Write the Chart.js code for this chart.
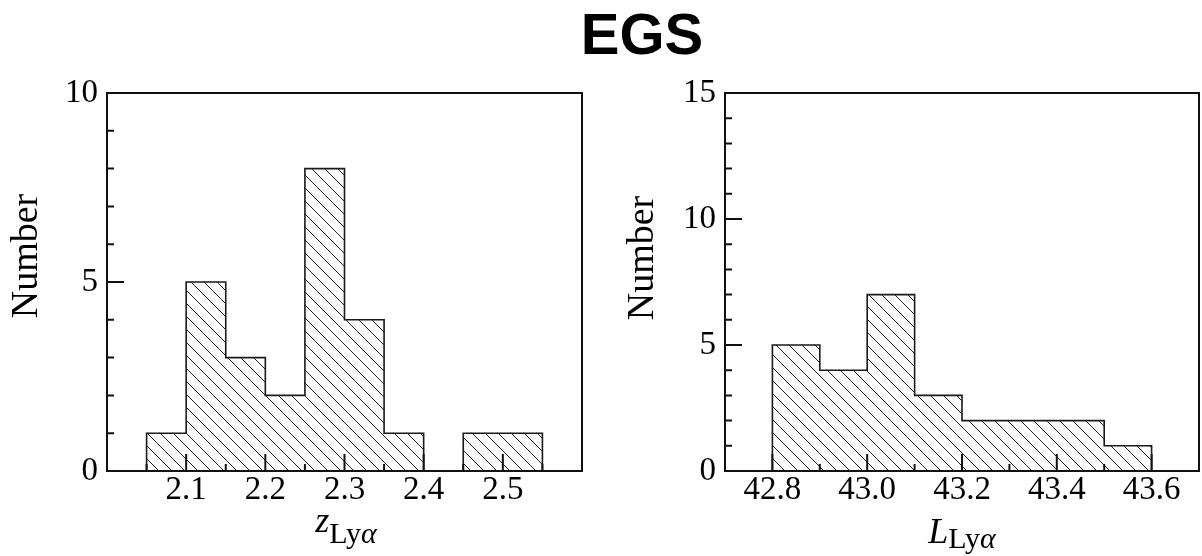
<!DOCTYPE html>
<html>
<head>
<meta charset="utf-8">
<title>EGS</title>
<script src="https://cdn.jsdelivr.net/npm/chart.js@4.4.1/dist/chart.umd.min.js"></script>
<style>
  body { margin: 0; background: #fff; width: 1202px; height: 556px; overflow: hidden; position: relative; }
  #titulo {
    position: absolute; left: 542px; top: 5px; width: 200px; margin: 0;
    text-align: center; font: bold 58px/58px "Liberation Sans", Arial, sans-serif; color: #000;
  }
  #graficoZ { position: absolute; left: 0; top: 0; }
  #graficoL { position: absolute; left: 600px; top: 0; }
</style>
</head>
<body>
<h1 id="titulo">EGS</h1>
<canvas id="graficoZ" width="600" height="556"></canvas>
<canvas id="graficoL" width="602" height="556"></canvas>
<script>
// histograma de z (izquierda)
const bordesZ = [2.05, 2.10, 2.15, 2.20, 2.25, 2.30, 2.35, 2.40, 2.45, 2.50, 2.55];
const cuentasZ = [1, 5, 3, 2, 8, 4, 1, 0, 1, 1];
const etiquetasZ = ['2.1', '2.2', '2.3', '2.4', '2.5'];
const etiquetasNumZ = ['0', '5', '10'];

// histograma de L (derecha)
const bordesL = [42.8, 42.9, 43.0, 43.1, 43.2, 43.3, 43.4, 43.5, 43.6];
const cuentasL = [5, 4, 7, 3, 2, 2, 2, 1];
const etiquetasL = ['42.8', '43.0', '43.2', '43.4', '43.6'];
const etiquetasNumL = ['0', '5', '10', '15'];

const SERIF = '"Liberation Serif", "Times New Roman", serif';

function rayado(paso, color) {
  const c = document.createElement('canvas');
  c.width = paso;
  c.height = paso;
  const g = c.getContext('2d');
  g.strokeStyle = color;
  g.lineWidth = 1;
  g.beginPath();
  g.moveTo(-1, -1); g.lineTo(paso + 1, paso + 1);
  g.moveTo(-1, paso - 1); g.lineTo(1, paso + 1);
  g.moveTo(paso - 1, -1); g.lineTo(paso + 1, 1);
  g.stroke();
  return g.createPattern(c, 'repeat');
}

// barras centradas en cada bin
function barras(bordes, cuentas) {
  return cuentas.map((c, i) => ({ x: (bordes[i] + bordes[i + 1]) / 2, y: c }));
}

// contorno escalonado del histograma
function contorno(bordes, cuentas) {
  const pts = [{ x: bordes[0], y: 0 }];
  cuentas.forEach((c, i) => {
    pts.push({ x: bordes[i], y: c });
    pts.push({ x: bordes[i + 1], y: c });
  });
  pts.push({ x: bordes[bordes.length - 1], y: 0 });
  return pts;
}

function etiquetaX(lista) {
  return (v) => {
    if (Math.abs(v * 10 - Math.round(v * 10)) > 1e-6) return '';
    const s = v.toFixed(1);
    return lista.includes(s) ? s : '';
  };
}

function etiquetaY(lista) {
  return (v) => lista.includes(String(v)) ? String(v) : '';
}

// marco, ticks hacia adentro y títulos de ejes
const marcoEjes = {
  id: 'marcoEjes',
  afterDatasetsDraw(chart, args, opts) {
    const { ctx, chartArea: a, scales: { x, y } } = chart;
    ctx.save();
    ctx.strokeStyle = '#111';
    ctx.lineWidth = 2;
    ctx.beginPath();
    x.ticks.forEach(t => {
      const px = x.getPixelForValue(t.value);
      if (px <= a.left + 1 || px >= a.right - 1) return;
      const largo = t.label ? 17 : 7;
      ctx.moveTo(px, a.bottom);
      ctx.lineTo(px, a.bottom - largo);
    });
    y.ticks.forEach(t => {
      const py = y.getPixelForValue(t.value);
      if (py <= a.top + 1 || py >= a.bottom - 1) return;
      const largo = t.label ? 17 : 7;
      ctx.moveTo(a.left, py);
      ctx.lineTo(a.left + largo, py);
    });
    ctx.stroke();
    ctx.strokeRect(a.left, a.top, a.right - a.left, a.bottom - a.top);

    ctx.fillStyle = '#000';
    // "Number" girado
    ctx.save();
    ctx.translate(opts.numero.x, opts.numero.y);
    ctx.rotate(-Math.PI / 2);
    ctx.font = '38px ' + SERIF;
    ctx.textAlign = 'center';
    ctx.textBaseline = 'alphabetic';
    ctx.fillText('Number', 0, 0);
    ctx.restore();

    // título del eje x con subíndice
    const t = opts.tituloX;
    const fPrin = 'italic 36px ' + SERIF;
    const fSub = '30px ' + SERIF;
    const fSubIt = 'italic 30px ' + SERIF;
    ctx.textAlign = 'left';
    ctx.textBaseline = 'alphabetic';
    ctx.font = fPrin; const w1 = ctx.measureText(t.letra).width;
    ctx.font = fSub; const w2 = ctx.measureText('Ly').width;
    ctx.font = fSubIt; const w3 = ctx.measureText('α').width;
    let x0 = t.cx - (w1 + w2 + w3) / 2;
    ctx.font = fPrin; ctx.fillText(t.letra, x0, t.base);
    x0 += w1;
    ctx.font = fSub; ctx.fillText('Ly', x0, t.base + t.sub);
    x0 += w2;
    ctx.font = fSubIt; ctx.fillText('α', x0, t.base + t.sub);
    ctx.restore();
  }
};

function crearHistograma(id, bordes, cuentas, ejeX, ejeY, extra) {
  const ctx = document.getElementById(id).getContext('2d');
  return new Chart(ctx, {
    type: 'bar',
    data: {
      datasets: [{
        type: 'bar',
        data: barras(bordes, cuentas),
        backgroundColor: rayado(13, '#222'),
        borderWidth: 0,
        barPercentage: 1,
        categoryPercentage: 1,
        order: 2
      }, {
        type: 'line',
        data: contorno(bordes, cuentas),
        borderColor: '#1a1a1a',
        borderWidth: 1.6,
        pointRadius: 0,
        tension: 0,
        fill: false,
        order: 1
      }]
    },
    plugins: [marcoEjes],
    options: {
      responsive: false,
      animation: false,
      events: [],
      layout: { padding: { top: 93, right: extra.derecha, left: 0, bottom: 0 } },
      scales: {
        x: {
          type: 'linear',
          offset: false,
          min: ejeX.min,
          max: ejeX.max,
          grid: { display: false, drawTicks: false, offset: false },
          border: { display: false },
          ticks: {
            stepSize: ejeX.paso,
            autoSkip: false,
            maxRotation: 0,
            padding: 0,
            color: '#000',
            font: { family: SERIF, size: 33 },
            callback: etiquetaX(ejeX.etiquetas)
          },
          afterFit: (s) => { s.height = 85; }
        },
        y: {
          min: 0,
          max: ejeY.max,
          grid: { display: false, drawTicks: false },
          border: { display: false },
          ticks: {
            stepSize: 1,
            autoSkip: false,
            padding: 9,
            color: '#000',
            font: { family: SERIF, size: 33 },
            callback: etiquetaY(ejeY.etiquetas)
          },
          afterFit: (s) => { s.width = extra.anchoY; }
        }
      },
      plugins: {
        legend: { display: false },
        tooltip: { enabled: false },
        marcoEjes: { numero: extra.numero, tituloX: extra.tituloX }
      }
    }
  });
}

crearHistograma('graficoZ', bordesZ, cuentasZ,
  { min: 2.0, max: 2.6, paso: 0.05, etiquetas: etiquetasZ },
  { max: 10, etiquetas: etiquetasNumZ },
  { derecha: 18, anchoY: 107, numero: { x: 37, y: 256 }, tituloX: { cx: 346, base: 532, sub: 11, letra: 'z' } });

crearHistograma('graficoL', bordesL, cuentasL,
  { min: 42.7, max: 43.7, paso: 0.1, etiquetas: etiquetasL },
  { max: 15, etiquetas: etiquetasNumL },
  { derecha: 3, anchoY: 125, numero: { x: 53, y: 258 }, tituloX: { cx: 362, base: 543, sub: 5, letra: 'L' } });
</script>
</body>
</html>
